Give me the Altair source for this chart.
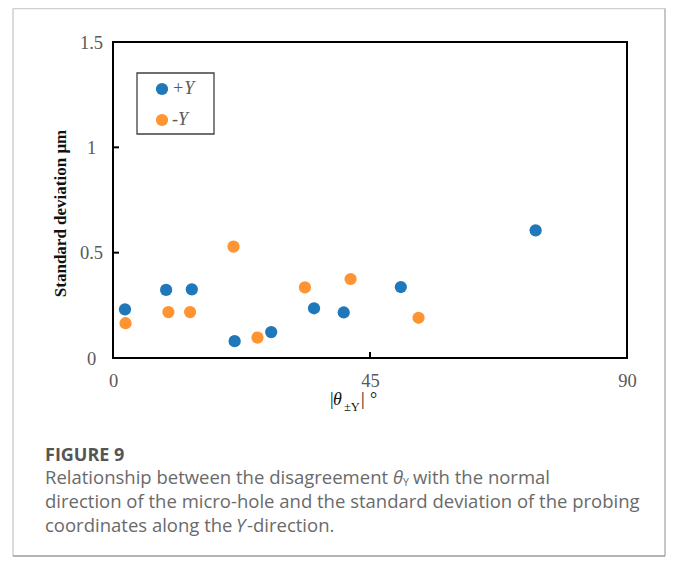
import altair as alt
import pandas as pd

# ---------------- data ----------------
plus_x = [2.1, 9.3, 13.8, 21.3, 27.7, 35.2, 40.4, 50.4, 74.0]
plus_y = [0.231, 0.323, 0.326, 0.080, 0.123, 0.236, 0.216, 0.337, 0.606]
minus_x = [2.2, 9.7, 13.5, 21.1, 25.3, 33.6, 41.6, 53.5]
minus_y = [0.165, 0.218, 0.218, 0.529, 0.097, 0.335, 0.375, 0.191]
series_names = ["+Y", "-Y"]
series_colors = ["#1F78B9", "#FF9433"]
x_ticks = [0, 45, 90]
y_ticks = [0, 0.5, 1, 1.5]
x_inner_ticks = [45]
y_inner_ticks = [0.5, 1]

W, H = 514, 316
SERIF = "Liberation Serif"
SANS = "Open Sans"

df = pd.DataFrame({
    "x": plus_x + minus_x,
    "y": plus_y + minus_y,
    "s": [series_names[0]] * len(plus_x) + [series_names[1]] * len(minus_x),
})

x_enc = alt.X("x:Q", scale=alt.Scale(domain=[0, 90], nice=False, zero=False),
              axis=alt.Axis(values=x_ticks, title=None, grid=False, domain=False, ticks=False,
                            tickSize=0, labelFont=SERIF, labelFontSize=18.5, labelColor="#595959",
                            labelPadding=13, labelFlush=False))
y_enc = alt.Y("y:Q", scale=alt.Scale(domain=[0, 1.5], nice=False, zero=False),
              axis=alt.Axis(values=y_ticks, title="Standard deviation μm", grid=False, domain=False,
                            ticks=False, tickSize=0, labelFont=SERIF, labelFontSize=18.5,
                            labelColor="#595959", labelAlign="center", labelBaseline="middle",
                            labelPadding=22, labelFlush=False, labelExpr="'' + datum.value",
                            titleFont=SERIF, titleFontSize=17, titleFontWeight="bold",
                            titleColor="#111111", titleX=-53, titleY=H / 2 + 13, titleAngle=270,
                            titleAlign="center", titleBaseline="middle"))

points = alt.Chart(df).mark_circle(size=150, opacity=1).encode(
    x=x_enc, y=y_enc,
    color=alt.Color("s:N", scale=alt.Scale(domain=series_names, range=series_colors), legend=None),
)

xt = alt.Chart(pd.DataFrame({"x": x_inner_ticks})).mark_rule(color="black", strokeWidth=2).encode(
    x=x_enc, y=alt.value(H), y2=alt.value(H - 6))
yt = alt.Chart(pd.DataFrame({"y": y_inner_ticks})).mark_rule(color="black", strokeWidth=2).encode(
    y=y_enc, x=alt.value(0), x2=alt.value(6))

one = pd.DataFrame({"k": [0]})


def txt(s, x, y, size=17, font=SERIF, color="#111111", style="normal", weight="normal",
        align="left", baseline="alphabetic"):
    return alt.Chart(one).mark_text(font=font, fontSize=size, fontStyle=style, fontWeight=weight,
                                    color=color, align=align, baseline=baseline).encode(
        x=alt.value(x), y=alt.value(y), text=alt.value(s))


def line(x1, y1, x2, y2, color, width):
    return alt.Chart(one).mark_rule(color=color, strokeWidth=width).encode(
        x=alt.value(x1), x2=alt.value(x2), y=alt.value(y1), y2=alt.value(y2))


# legend (manual box)
leg_box = alt.Chart(one).mark_rect(fill="white", stroke="#404040", strokeWidth=1.3).encode(
    x=alt.value(24), x2=alt.value(101), y=alt.value(31), y2=alt.value(92))
leg_layers = [leg_box]
for i, (nm, col) in enumerate(zip(series_names, series_colors)):
    yy = 47 + 31 * i
    leg_layers.append(alt.Chart(one).mark_circle(size=150, opacity=1, color=col).encode(
        x=alt.value(49), y=alt.value(yy)))
    leg_layers.append(txt(nm, 59, yy, size=18, color="#595959", style="italic", baseline="middle"))

# x title  |θ±Y| °
xtitle = [
    txt("|", 217, 363, size=18),
    txt("θ", 220, 363, size=18, style="italic"),
    txt("±Y", 231, 369, size=12.5),
    txt("|", 248, 363, size=18),
    txt("°", 257, 363, size=18),
]

# caption
CAP = "#6a6a6a"
CS = 18.5
caption = [
    txt("FIGURE 9", -68, 419, size=18, font=SANS, color="#555555", weight="bold"),
    txt("Relationship between the disagreement", -68, 442, size=CS, font=SANS, color=CAP),
    txt("θ", 280, 442, size=CS, font=SANS, color=CAP, style="italic"),
    txt("Y", 290, 444, size=10.5, font=SANS, color=CAP),
    txt("with the normal", 300, 442, size=CS, font=SANS, color=CAP),
    txt("direction of the micro-hole and the standard deviation of the probing", -68, 466,
        size=CS, font=SANS, color=CAP),
    txt("coordinates along the", -68, 490, size=CS, font=SANS, color=CAP),
    txt("Y", 123, 490, size=CS, font=SANS, color=CAP, style="italic"),
    txt("-direction.", 134, 490, size=CS, font=SANS, color=CAP),
]

# outer frame of the figure
frame = [
    line(-100, -33.5, 552, -33.5, "#cfcfcf", 1.5),
    line(-100, -33.5, -100, 514, "#cfcfcf", 1.5),
    line(552, -33.5, 552, 514, "#b5b5b5", 1.5),
    line(-100, 514, 552, 514, "#9a9a9a", 1.5),
]

chart = alt.layer(*frame, points, xt, yt, *leg_layers, *xtitle, *caption).properties(
    width=W, height=H, autosize="none",
    padding={"left": 105, "top": 34, "right": 43, "bottom": 205},
).configure(background="white").configure_view(stroke="black", strokeWidth=2)

chart.save("out.html", embed_options={"renderer": "svg", "actions": False})
